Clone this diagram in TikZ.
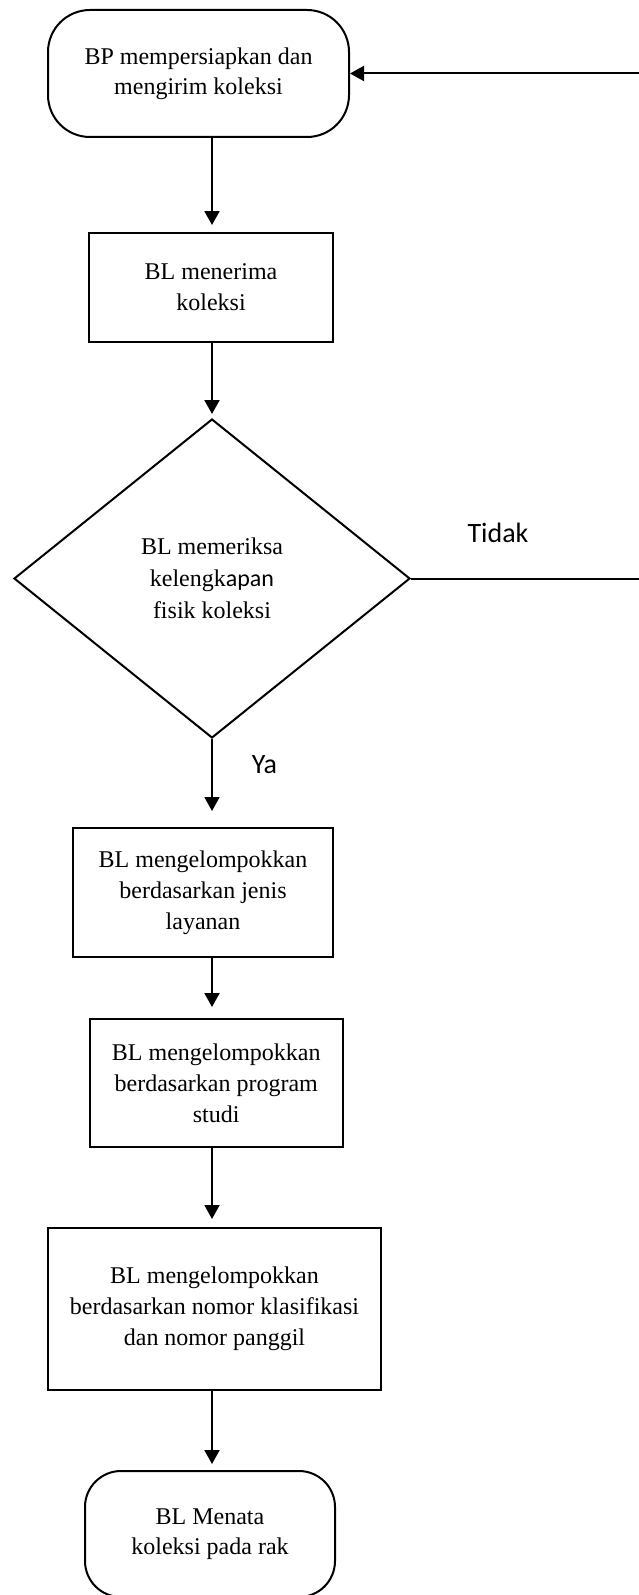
\documentclass[tikz,border=0pt]{standalone}
\usepackage{fontspec}
\setmainfont{Liberation Serif}
\newfontfamily\calibri{Carlito}
\usepackage{tikz}
\usetikzlibrary{shapes,arrows,arrows.meta,positioning,calc,shapes.geometric}

\begin{document}
\begin{tikzpicture}[x=0.5pt, y=-0.5pt,
  term/.style={draw, line width=1pt, rounded corners=21pt, inner sep=0pt,
    font=\fontsize{12}{15}\selectfont, align=center},
  box/.style={draw, line width=1pt, inner sep=0pt,
    font=\fontsize{12}{15.5}\selectfont, align=center},
  dec/.style={diamond, draw, line width=1pt, inner sep=0pt, aspect=1.25,
    font=\fontsize{12}{16}\selectfont, align=center},
  arr/.style={-{Triangle[length=7pt, width=7.5pt]}, line width=1pt},
  lbl/.style={font=\calibri\fontsize{14}{16}\selectfont},
]
\useasboundingbox (0,0) rectangle (638,1595);

%% Start
\node[term, minimum width=150.5pt, minimum height=63.5pt] (t1) at (198.5,73.5)
  {BP mempersiapkan dan\\mengirim koleksi};
\node[box, minimum width=121.75pt, minimum height=54.5pt] (r1) at (211,287.5)
  {BL menerima\\koleksi};

%% Check
\node[dec, minimum width=198pt, minimum height=159.5pt] (d1) at (212,578.5)
  {BL memeriksa\\kelengk{\calibri apan}\\fisik koleksi};
\node[lbl] (no)  at (498,533) {Tidak};
\node[lbl] (yes) at (264.5,765) {Ya};

%% Grouping
\node[box, minimum width=130pt, minimum height=64.5pt] (r2) at (203,892.5)
  {BL mengelompokkan\\berdasarkan jenis\\layanan};
\node[box, minimum width=126.75pt, minimum height=64pt] (r3) at (216.25,1083)
  {BL mengelompokkan\\berdasarkan program\\studi};
\node[box, minimum width=166.5pt, minimum height=81pt] (r4) at (214.5,1309)
  {BL mengelompokkan\\berdasarkan nomor klasifikasi\\dan nomor panggil};

%% End
\node[term, rounded corners=18pt, minimum width=125pt, minimum height=63pt] (t2) at (210,1534)
  {BL Menata\\koleksi pada rak};

%% Connections
\draw[arr, shorten >=3.5pt] (t1.south -| d1) -- (r1.north -| d1);
\draw[arr, shorten >=2pt] (r1.south -| d1) -- (d1.north);
\draw[arr, shorten >=8pt] (d1.south) -- (r2.north -| d1);
\draw[arr, shorten >=5.5pt] (r2.south -| d1) -- (r3.north -| d1);
\draw[arr, shorten >=4pt] (r3.south -| d1) -- (r4.north -| d1);
\draw[arr, shorten >=3pt] (r4.south -| d1) -- (t2.north -| d1);

%% Back to start
\coordinate (turn) at (645,0);
\draw[arr] (d1.east) -- (d1.east -| turn) |- (t1.east);

\end{tikzpicture}
\end{document}
